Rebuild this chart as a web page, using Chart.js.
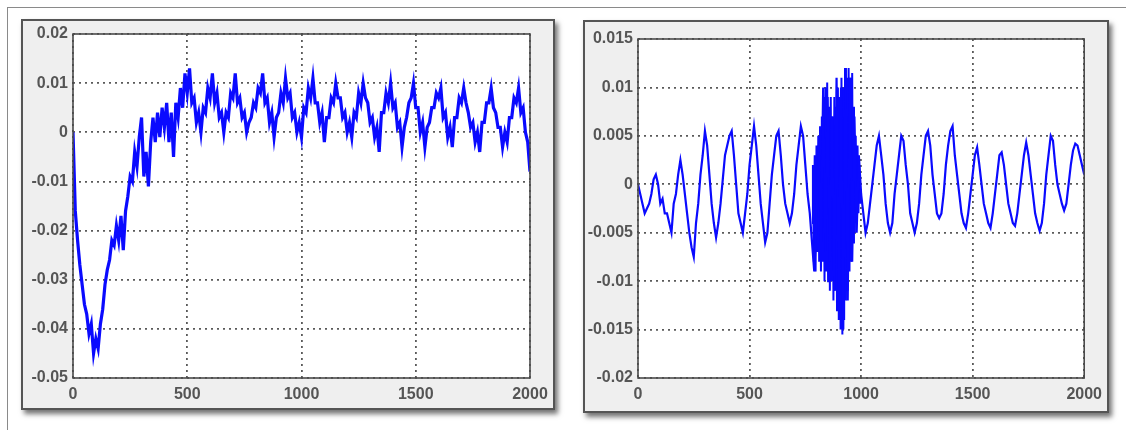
<!DOCTYPE html>
<html>
<head>
<meta charset="utf-8">
<script src="https://cdn.jsdelivr.net/npm/chart.js@4"></script>
<style>
  body { margin: 0; background: #fff; width: 1126px; height: 430px; position: relative; overflow: hidden; font-family: "Liberation Sans", Arial, sans-serif; }
  .outer { position: absolute; left: 7px; top: 7px; right: -2px; bottom: -2px; border-top: 1px solid #8a8a8a; border-left: 1px solid #8a8a8a; }
  .panel { position: absolute; background: #efefef; border: 2px solid #555; box-sizing: border-box; box-shadow: 3px 4px 5px rgba(0,0,0,0.55); }
  canvas { position: absolute; }
</style>
</head>
<body>
<div class="outer"></div>
<div class="panel" style="left:21px; top:19px; width:534px; height:391px;"></div>
<div class="panel" style="left:583px; top:20px; width:526px; height:393px;"></div>
<canvas id="leftChart" width="534" height="391" style="left:21px; top:19px;"></canvas>
<canvas id="rightChart" width="526" height="393" style="left:583px; top:20px;"></canvas>
<script>
// samples every 10 units along x (0..2000)
const sampleStep = 10;

// left trace
const leftValues = [
  0, -0.016, -0.022, -0.027, -0.031, -0.035, -0.037, -0.041, -0.039, -0.045,
  -0.042, -0.044, -0.039, -0.036, -0.031, -0.028, -0.026, -0.022, -0.023, -0.019,
  -0.022, -0.017, -0.024, -0.016, -0.013, -0.009, -0.01, -0.004, -0.007, -0.001,
  0.003, -0.009, -0.004, -0.011, -0.002, 0.003, -0.002, 0.004, -0.001, 0.005,
  0.001, 0.006, -0.002, 0.004, -0.005, 0.006, 0.003, 0.009, 0.005, 0.012,
  0.008, 0.013, 0.006, 0.007, 0.002, 0.004, 0, 0.005, 0.004, 0.009,
  0.007, 0.012, 0.006, 0.008, 0.003, 0.004, 0, 0.004, 0.003, 0.008,
  0.007, 0.012, 0.006, 0.007, 0.003, 0.004, 0, 0.002, 0.003, 0.006,
  0.005, 0.009, 0.008, 0.012, 0.006, 0.007, 0.002, 0.004, -0.001, 0.003,
  0.004, 0.008, 0.006, 0.011, 0.007, 0.008, 0.003, 0.004, 0, 0.002,
  -0.001, 0.005, 0.004, 0.009, 0.007, 0.011, 0.006, 0.006, 0.002, 0.004,
  -0.002, 0.003, 0.003, 0.007, 0.006, 0.01, 0.007, 0.007, 0.003, 0.004,
  0, 0.002, -0.001, 0.004, 0.003, 0.008, 0.006, 0.01, 0.007, 0.006,
  0.002, 0.003, -0.001, 0.001, -0.004, 0.004, 0.004, 0.008, 0.006, 0.01,
  0.005, 0.006, 0.001, 0.002, -0.003, 0.001, 0.003, 0.006, 0.007, 0.01,
  0.005, 0.005, 0, 0.002, -0.003, 0.001, 0.002, 0.005, 0.005, 0.008,
  0.007, 0.009, 0.003, 0.004, -0.001, 0.001, -0.003, 0.003, 0.003, 0.007,
  0.006, 0.009, 0.006, 0.004, 0.001, 0.002, -0.002, 0, -0.004, 0.002,
  0.002, 0.006, 0.006, 0.009, 0.005, 0.004, 0.001, 0.001, -0.003, 0,
  -0.002, 0.003, 0.003, 0.007, 0.006, 0.009, 0.004, 0.005, 0, -0.002,
  -0.008
];

// right trace
const rightValues = [
  0, -0.001, -0.002, -0.003, -0.0025, -0.002, -0.001, 0.0005, 0.001, 0,
  -0.002, -0.0015, -0.003, -0.003, -0.004, -0.005, -0.002, -0.001, 0.001, 0.0025,
  0.001, -0.001, -0.003, -0.005, -0.0065, -0.0075, -0.004, -0.002, 0.001, 0.003,
  0.0055, 0.004, 0.001, -0.002, -0.004, -0.0055, -0.004, -0.002, 0.0005, 0.003,
  0.004, 0.005, 0.0055, 0.003, 0, -0.003, -0.004, -0.005, -0.003, -0.001,
  0.002, 0.004, 0.006, 0.004, 0.001, -0.002, -0.004, -0.006, -0.005, -0.002,
  0.001, 0.003, 0.005, 0.0055, 0.003, 0, -0.002, -0.003, -0.004, -0.003,
  -0.001, 0.002, 0.004, 0.006, 0.005, 0.002, -0.001, -0.003, -0.006, -0.009,
  -0.004, 0.004, -0.006, 0.01, -0.007, 0.009, -0.008, 0.007, -0.011, 0.011,
  -0.013, 0.01, -0.015, 0.012, -0.012, 0.011, -0.008, 0.007, -0.005, 0.003,
  -0.001, -0.003, -0.005, -0.004, -0.002, 0, 0.002, 0.004, 0.005, 0.003,
  0.001, -0.002, -0.004, -0.005, -0.004, -0.001, 0.001, 0.003, 0.005, 0.0045,
  0.002, 0, -0.003, -0.004, -0.005, -0.004, -0.002, 0.001, 0.003, 0.005,
  0.0055, 0.004, 0.001, -0.001, -0.003, -0.0035, -0.003, -0.001, 0.002, 0.004,
  0.0055, 0.006, 0.003, 0.001, -0.001, -0.003, -0.004, -0.0045, -0.003, -0.001,
  0.001, 0.003, 0.0038, 0.002, 0, -0.002, -0.003, -0.004, -0.0045, -0.003,
  -0.001, 0.001, 0.003, 0.0033, 0.002, 0, -0.002, -0.003, -0.004, -0.0043,
  -0.003, -0.001, 0.001, 0.003, 0.0043, 0.003, 0.001, -0.001, -0.003, -0.004,
  -0.0048, -0.004, -0.002, 0.001, 0.003, 0.005, 0.0045, 0.002, 0, -0.001,
  -0.002, -0.0027, -0.002, 0, 0.002, 0.0035, 0.0042, 0.004, 0.003, 0.002,
  0.001
];

// dense burst in the right trace, sampled every 4 units from 780 to 1000
const burstStart = 780;
const burstStep = 4;
const burstValues = [
  -0.004, 0.002, -0.008, 0.003, -0.009, 0.004, -0.007, 0.005, -0.008, 0.006,
  -0.009, 0.007, -0.008, 0.009, -0.01, 0.01, -0.009, 0.0105, -0.01, 0.008,
  -0.011, 0.009, -0.01, 0.007, -0.012, 0.009, -0.011, 0.008, -0.013, 0.01,
  -0.014, 0.009, -0.015, 0.011, -0.0155, 0.01, -0.014, 0.012, -0.012, 0.011,
  -0.011, 0.012, -0.009, 0.011, -0.008, 0.0115, -0.006, 0.008, -0.005, 0.005,
  -0.004, 0.004, -0.003, 0.002, -0.002, -0.001
];

const xMin = 0, xMax = 2000, xStep = 500;
const leftY = { min: -0.05, max: 0.02, step: 0.01 };
const rightY = { min: -0.02, max: 0.015, step: 0.005 };

// white plot area and the closed box round it
const frameBox = {
  id: "frameBox",
  beforeDraw(chart) {
    const { ctx, chartArea: a } = chart;
    ctx.save();
    ctx.fillStyle = "#ffffff";
    ctx.fillRect(a.left, a.top, a.right - a.left, a.bottom - a.top);
    ctx.restore();
  },
  afterDraw(chart) {
    const { ctx, chartArea: a } = chart;
    ctx.save();
    ctx.strokeStyle = "#4a4a4a";
    ctx.lineWidth = 1.6;
    ctx.strokeRect(a.left, a.top, a.right - a.left, a.bottom - a.top);
    ctx.restore();
  },
};

function lineSet(points, lineW) {
  return {
    data: points,
    borderColor: "#0a0aff",
    borderWidth: lineW,
    borderJoinStyle: "miter",
    pointRadius: 0,
    tension: 0,
    fill: false,
  };
}

function renderChart(el, datasets, yr, pad, yWidth, xHeight) {
  const tickFont = { family: "'Liberation Sans', Arial, sans-serif", size: 16, weight: "bold" };
  const grid = { color: "#5a5a5a", lineWidth: 1.8, drawTicks: false };

  new Chart(document.querySelector(el).getContext("2d"), {
    type: "line",
    data: { datasets },
    options: {
      responsive: false,
      animation: false,
      events: [],
      layout: { padding: pad },
      plugins: { legend: { display: false }, tooltip: { enabled: false } },
      scales: {
        x: {
          type: "linear",
          min: xMin,
          max: xMax,
          grid: grid,
          border: { display: false, dash: [2, 4] },
          ticks: {
            stepSize: xStep,
            color: "#555",
            font: tickFont,
            padding: 7,
            maxRotation: 0,
            callback: (v) => String(v),
          },
          afterFit: (s) => { s.height = xHeight; },
        },
        y: {
          min: yr.min,
          max: yr.max,
          grid: grid,
          border: { display: false, dash: [2, 4] },
          ticks: {
            stepSize: yr.step,
            color: "#555",
            font: tickFont,
            padding: 5,
            callback: (v) => String(Number(v.toFixed(3))),
          },
          afterFit: (s) => { s.width = yWidth; },
        },
      },
    },
    plugins: [frameBox],
  });
}

const leftPoints = leftValues.map((v, i) => ({ x: i * sampleStep, y: v }));
const rightPoints = rightValues.map((v, i) => ({ x: i * sampleStep, y: v }));
const burstPoints = burstValues.map((v, i) => ({ x: burstStart + i * burstStep, y: v }));

renderChart("#leftChart", [lineSet(leftPoints, 3.2)], leftY,
  { left: 0, top: 15, right: 25, bottom: 0 }, 52, 32);
renderChart("#rightChart", [lineSet(rightPoints, 2.2), lineSet(burstPoints, 2)], rightY,
  { left: 0, top: 19, right: 24, bottom: 0 }, 55, 35);
</script>
</body>
</html>
